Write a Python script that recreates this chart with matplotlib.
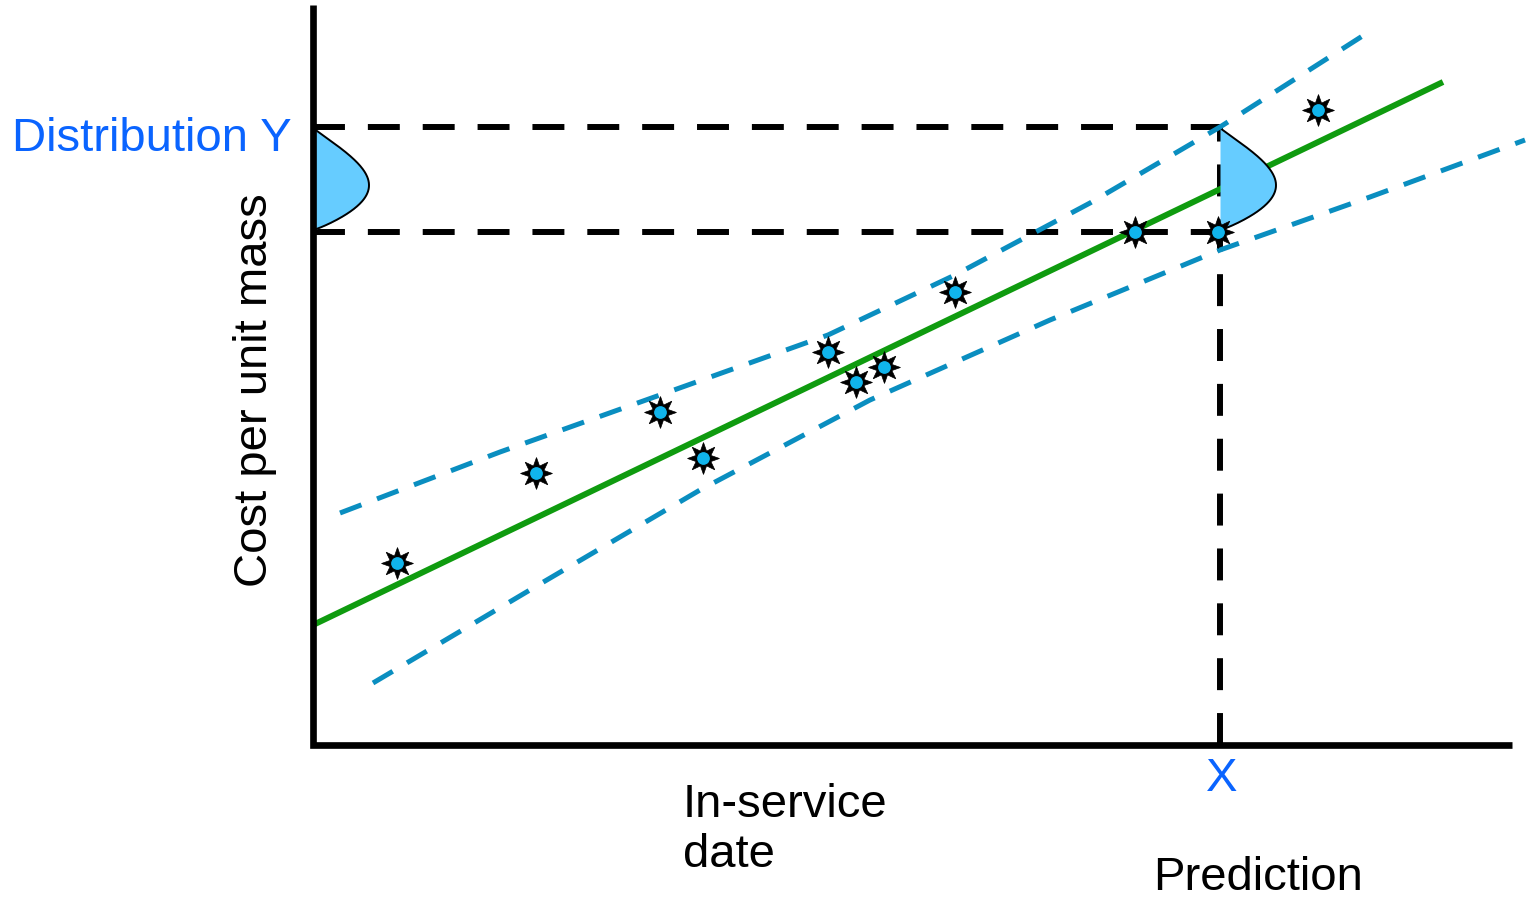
import numpy as np
import matplotlib
matplotlib.use("Agg")
from matplotlib import pyplot as plt

plt.rcParams['font.family'] = ['Liberation Sans', 'DejaVu Sans']
plt.rcParams['lines.scale_dashes'] = False

# observed systems: in-service date vs cost per unit mass
date = [0.84, 2.23, 3.47, 3.90, 5.15, 5.43, 5.71, 6.42, 8.22, 9.05, 10.05]
cost = [1.82, 2.72, 3.33, 2.87, 3.93, 3.63, 3.78, 4.53, 5.13, 5.13, 6.35]

# regression line
trend_x = [0.0, 11.30]
trend_y = [1.20, 6.63]

# prediction band (upper / lower)
upper_x = [0.27, 1.87, 3.47, 5.15, 6.42, 7.77, 9.07, 10.62]
upper_y = [2.32, 2.93, 3.50, 4.10, 4.70, 5.42, 6.18, 7.17]
lower_x = [0.60, 2.27, 3.87, 5.57, 7.37, 9.07, 10.57, 12.12]
lower_y = [0.62, 1.61, 2.55, 3.45, 4.25, 4.95, 5.48, 6.05]

# prediction point and the spread of Y there
x_pred = 9.07
y_low, y_high = 5.13, 6.18
dist_low, dist_high = 5.15, 6.17
dist_width = 0.56

x_end, y_end = 11.99, 7.40

blue_txt = '#0a64ff'
band_col = '#0a8ec0'
green = '#0f9b0f'
fill_col = '#66ccff'
dot_col = '#10b4ec'

fig = plt.figure(figsize=(15.37, 8.97), dpi=100)
ax = fig.add_axes([0, 0, 1, 1])
ax.set_xlim(-3.13, 12.24)
ax.set_ylim(-1.52, 7.45)
ax.axis('off')

# guide lines from X up and across to the Y axis
dash_k = dict(color='k', lw=4.3, dashes=(23, 16.5), solid_capstyle='butt')
ax.plot([0, x_pred], [y_high, y_high], zorder=2, **dash_k)
ax.plot([0, x_pred], [y_low, y_low], zorder=2, **dash_k)
ax.plot([x_pred, x_pred], [0, y_high], zorder=2, **dash_k)

# regression line
ax.plot(trend_x, trend_y, color=green, lw=4.3, solid_capstyle='butt', zorder=3)

# distribution bumps
t = np.linspace(0, 1, 200)
shape = np.sin(np.pi * t ** 1.2) ** 0.85
yy = dist_low + (dist_high - dist_low) * (1 - t)
for x0 in (0.0, x_pred):
    ax.fill_betweenx(yy, x0, x0 + dist_width * shape, color=fill_col, lw=0, zorder=4)
    ax.plot(x0 + dist_width * shape, yy, color='k', lw=1.4, zorder=4)

# prediction band
dash_b = dict(color=band_col, lw=3.6, dashes=(16.5, 12), solid_capstyle='butt')
ax.plot(upper_x, upper_y, zorder=5, **dash_b)
ax.plot(lower_x, lower_y, zorder=5, **dash_b)

# axes
ax.plot([0, 0, x_end], [y_end, 0, 0], color='k', lw=4.8,
        solid_joinstyle='miter', solid_capstyle='butt', zorder=6)

# data points: black star with cyan centre
ax.plot(date, cost, ls='none', marker=(8, 1, 0), ms=23, mfc='k', mec='k',
        mew=0.5, zorder=7)
ax.plot(date, cost, ls='none', marker='o', ms=10, mfc=dot_col, mec='k',
        mew=0.8, zorder=8)

fs = 34
ax.text(-3.01, 5.94, 'Distribution Y', color=blue_txt, fontsize=fs,
        ha='left', va='baseline')
ax.text(-0.58, 3.55, 'Cost per unit mass', rotation=90, fontsize=fs,
        ha='center', va='center')
ax.text(3.70, -0.72, 'In-service', fontsize=fs, ha='left', va='baseline')
ax.text(3.70, -1.22, 'date', fontsize=fs, ha='left', va='baseline')
ax.text(x_pred + 0.02, -0.46, 'X', color=blue_txt, fontsize=fs,
        ha='center', va='baseline')
ax.text(8.40, -1.45, 'Prediction', fontsize=fs, ha='left', va='baseline')

fig.savefig('out.png', dpi=100)
